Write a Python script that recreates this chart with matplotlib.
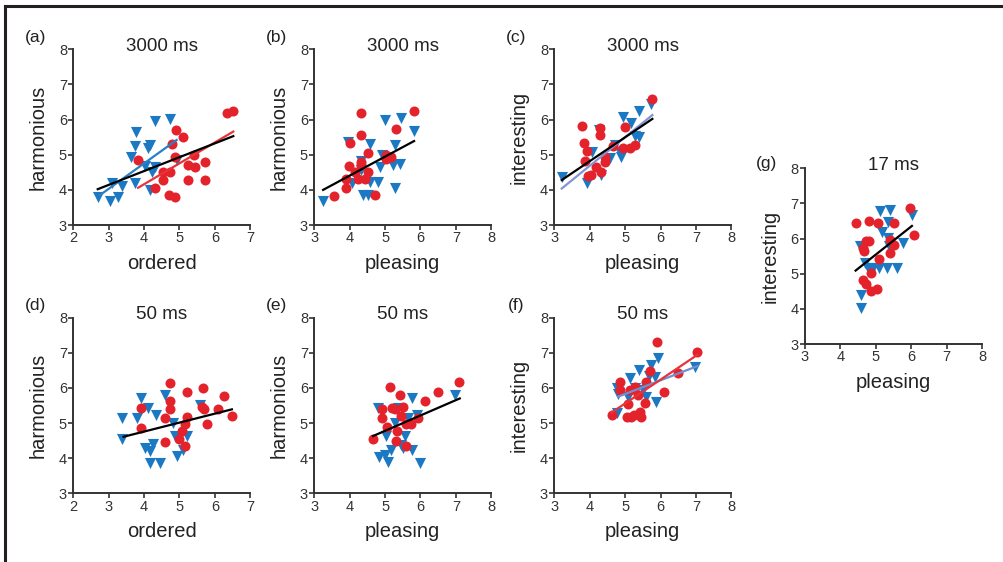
import matplotlib.pyplot as plt

plt.rcParams['font.family'] = ['Liberation Sans', 'DejaVu Sans']

RED = '#e4222b'
BLUE = '#1b79c3'

# (a) 3000 ms, ordered vs harmonious
a_tri_x = [2.69, 3.03, 3.08, 3.25, 3.38, 3.63, 3.74, 3.77, 3.74, 4.02, 4.12, 4.16, 4.16, 4.21, 4.30, 4.30, 4.73, 4.92]
a_tri_y = [3.81, 3.68, 4.21, 3.81, 4.12, 4.95, 5.25, 5.66, 4.20, 4.69, 5.18, 5.28, 4.00, 4.52, 4.66, 5.97, 6.02, 4.85]
a_dot_x = [3.82, 4.30, 4.54, 4.54, 4.70, 4.73, 4.78, 4.87, 4.87, 4.90, 5.10, 5.25, 5.25, 5.41, 5.43, 5.72, 5.72, 6.33, 6.52]
a_dot_y = [4.85, 4.04, 4.52, 4.28, 3.85, 4.52, 5.32, 4.95, 3.81, 5.70, 5.51, 4.71, 4.28, 4.99, 4.66, 4.80, 4.28, 6.18, 6.24]
a_fit_all = ([2.69, 6.52], [4.02, 5.53])
a_fit_tri = ([2.75, 4.92], [3.85, 5.42])
a_fit_dot = ([3.83, 6.52], [4.06, 5.66])

# (b) 3000 ms, pleasing vs harmonious
b_tri_x = [3.25, 3.96, 4.08, 4.31, 4.33, 4.38, 4.52, 4.57, 4.57, 4.80, 4.85, 4.90, 4.99, 5.23, 5.27, 5.27, 5.42, 5.46, 5.82]
b_tri_y = [3.69, 5.37, 4.19, 4.82, 4.57, 3.85, 3.85, 5.30, 4.23, 4.23, 4.66, 4.99, 5.99, 4.71, 5.28, 4.04, 4.74, 6.06, 5.68]
b_dot_x = [3.55, 3.91, 3.91, 3.98, 4.00, 4.15, 4.24, 4.33, 4.33, 4.32, 4.33, 4.43, 4.52, 4.52, 4.71, 5.02, 5.04, 5.18, 5.32, 5.82]
b_dot_y = [3.83, 4.04, 4.30, 4.68, 5.34, 4.52, 4.30, 6.20, 5.56, 4.80, 4.71, 4.30, 5.06, 4.52, 3.85, 4.99, 4.87, 4.94, 5.72, 6.25]
b_fit_all = ([3.25, 5.82], [4.00, 5.39])

# (c) 3000 ms, pleasing vs interesting
c_tri_x = [3.21, 3.91, 4.07, 4.26, 4.32, 4.57, 4.71, 4.85, 4.88, 4.95, 5.18, 5.27, 5.39, 5.39, 5.74]
c_tri_y = [4.38, 4.19, 5.09, 5.70, 4.42, 4.90, 5.28, 5.09, 4.95, 6.08, 5.89, 5.53, 5.51, 6.25, 6.44]
c_dot_x = [3.77, 3.85, 3.91, 3.86, 3.96, 4.05, 4.19, 4.29, 4.29, 4.32, 4.43, 4.43, 4.66, 4.95, 4.99, 5.13, 5.27, 5.76]
c_dot_y = [5.82, 5.34, 5.12, 4.83, 4.39, 4.42, 4.66, 5.75, 5.56, 4.52, 4.80, 4.95, 5.25, 5.20, 5.80, 5.20, 5.28, 6.59]
c_fit_all = ([3.21, 5.77], [4.28, 6.02])
c_fit_tri = ([3.21, 5.77], [4.04, 6.13])

# (d) 50 ms, ordered vs harmonious
d_tri_x = [3.39, 3.39, 3.79, 3.91, 4.10, 4.03, 4.17, 4.26, 4.17, 4.45, 4.33, 4.58, 4.83, 4.88, 4.92, 5.11, 5.21, 5.58]
d_tri_y = [5.15, 4.54, 5.15, 5.72, 5.44, 4.28, 4.21, 4.40, 3.87, 3.87, 5.23, 5.80, 4.99, 4.63, 4.06, 4.23, 4.63, 5.51]
d_dot_x = [3.91, 3.91, 4.58, 4.58, 4.72, 4.72, 4.72, 5.00, 5.07, 5.16, 5.16, 5.21, 5.21, 5.65, 5.63, 5.68, 5.77, 6.10, 6.25, 6.48]
d_dot_y = [5.44, 4.87, 4.47, 5.15, 6.15, 5.64, 5.39, 4.54, 4.76, 4.96, 4.35, 5.18, 5.87, 6.01, 5.47, 5.39, 4.96, 5.39, 5.77, 5.20]
d_fit_all = ([3.42, 6.48], [4.61, 5.39])

# (e) 50 ms, pleasing vs harmonious
e_tri_x = [4.80, 4.82, 4.99, 5.04, 5.09, 5.18, 5.27, 5.37, 5.46, 5.51, 5.56, 5.65, 5.76, 5.76, 5.89, 6.00, 6.97]
e_tri_y = [5.44, 4.04, 4.09, 4.63, 3.90, 4.23, 4.99, 5.44, 4.38, 4.28, 4.63, 5.13, 4.23, 5.70, 5.23, 3.85, 5.80]
e_dot_x = [4.66, 4.90, 4.90, 5.06, 5.13, 5.20, 5.27, 5.30, 5.34, 5.42, 5.46, 5.51, 5.60, 5.60, 5.74, 5.93, 6.14, 6.50, 7.09]
e_dot_y = [4.54, 5.39, 5.15, 4.90, 6.02, 5.44, 5.39, 4.49, 4.77, 5.80, 5.20, 5.45, 4.97, 4.35, 4.97, 5.15, 5.64, 5.87, 6.18]
e_fit_all = ([4.66, 7.11], [4.63, 5.70])

# (f) 50 ms, pleasing vs interesting
f_tri_x = [4.76, 4.80, 4.76, 5.09, 5.13, 5.40, 5.27, 5.51, 5.60, 5.67, 5.74, 5.84, 5.86, 5.93, 6.97]
f_tri_y = [6.01, 5.82, 5.28, 5.75, 6.27, 6.51, 5.99, 5.94, 5.75, 6.34, 6.65, 6.32, 5.61, 6.84, 6.60]
f_dot_x = [4.62, 4.85, 4.85, 5.04, 5.09, 5.13, 5.18, 5.27, 5.25, 5.37, 5.42, 5.46, 5.56, 5.58, 5.70, 5.90, 6.09, 6.48, 7.04]
f_dot_y = [5.23, 6.18, 5.94, 5.18, 5.54, 5.94, 5.18, 6.04, 5.23, 5.80, 5.32, 5.16, 5.56, 6.18, 6.49, 7.32, 5.87, 6.43, 7.03]
f_fit_dot = ([4.62, 7.04], [5.30, 6.94])
f_fit_tri = ([4.80, 7.04], [5.75, 6.62])

# (g) 17 ms, pleasing vs interesting
g_tri_x = [4.56, 4.58, 4.58, 4.70, 4.79, 4.93, 5.08, 5.12, 5.17, 5.31, 5.34, 5.34, 5.39, 5.36, 5.59, 5.78, 6.02]
g_tri_y = [5.79, 4.39, 4.02, 5.31, 5.15, 5.15, 5.15, 6.79, 6.20, 5.15, 6.48, 6.01, 6.82, 5.79, 5.15, 5.87, 6.67]
g_dot_x = [4.44, 4.82, 4.73, 4.82, 4.63, 4.67, 4.65, 4.73, 4.86, 4.87, 5.03, 5.05, 5.10, 5.39, 5.39, 5.50, 5.52, 5.97, 6.07]
g_dot_y = [6.45, 6.50, 5.94, 5.94, 5.72, 5.66, 4.82, 4.71, 4.52, 5.03, 4.57, 6.45, 5.41, 5.60, 5.96, 5.82, 6.45, 6.88, 6.10]
g_fit_all = ([4.43, 6.02], [5.09, 6.36])

fig = plt.figure(figsize=(10.04, 5.62), dpi=100)

# frame lines at top and left of the figure
fig.add_artist(plt.Line2D([0.0045, 0.0045], [0.0, 0.990], color='#231f20', lw=2.2, transform=fig.transFigure))
fig.add_artist(plt.Line2D([0.0045, 1.0], [0.990, 0.990], color='#231f20', lw=2.2, transform=fig.transFigure))

W, H = 0.1763, 0.3126


def panel(rect, letter, title, xlabel, ylabel, xlim, tri, dot, fits, letter_y=1.07):
    ax = fig.add_axes(rect)
    ax.scatter(tri[0], tri[1], marker='v', s=64, color=BLUE, linewidths=0, zorder=3)
    ax.scatter(dot[0], dot[1], marker='o', s=52, color=RED, linewidths=0, zorder=3)
    for (fx, fy), col in fits:
        ax.plot(fx, fy, color=col, lw=1.6, zorder=4)
    ax.set_xlim(*xlim)
    ax.set_ylim(3, 8)
    ax.set_xticks(range(xlim[0], xlim[1] + 1))
    ax.set_yticks(range(3, 9))
    for s in ['top', 'right']:
        ax.spines[s].set_visible(False)
    for s in ['left', 'bottom']:
        ax.spines[s].set_linewidth(1.4)
        ax.spines[s].set_color('#333333')
    ax.tick_params(direction='out', length=3.5, width=1.2, pad=1, labelsize=10.5,
                   colors='#333333', labelcolor='#333333')
    ax.set_xlabel(xlabel, fontsize=14.5, labelpad=6, color='#222222')
    ax.set_ylabel(ylabel, fontsize=14.5, labelpad=8, color='#222222')
    ax.text(0.5, 0.99, title, transform=ax.transAxes, ha='center', va='baseline',
            fontsize=13.5, color='#222222')
    ax.text(-0.215, letter_y, letter, transform=ax.transAxes, ha='center', va='center',
            fontsize=12.5, color='#222222')
    ax.patch.set_alpha(0)
    return ax


top, bot = 0.5996, 0.1222
x1, x2, x3 = 0.073, 0.3130, 0.5521

panel([x1, top, W, H], '(a)', '3000 ms', 'ordered', 'harmonious', (2, 7),
      (a_tri_x, a_tri_y), (a_dot_x, a_dot_y),
      [(a_fit_tri, '#2a7fc6'), (a_fit_dot, '#e8333a'), (a_fit_all, 'black')])
panel([x2, top, W, H], '(b)', '3000 ms', 'pleasing', 'harmonious', (3, 8),
      (b_tri_x, b_tri_y), (b_dot_x, b_dot_y),
      [(b_fit_all, 'black')])
panel([x3, top, W, H], '(c)', '3000 ms', 'pleasing', 'interesting', (3, 8),
      (c_tri_x, c_tri_y), (c_dot_x, c_dot_y),
      [(c_fit_tri, '#8494d2'), (c_fit_all, 'black')])
panel([x1, bot, W, H], '(d)', '50 ms', 'ordered', 'harmonious', (2, 7),
      (d_tri_x, d_tri_y), (d_dot_x, d_dot_y),
      [(d_fit_all, 'black')])
panel([x2, bot, W, H], '(e)', '50 ms', 'pleasing', 'harmonious', (3, 8),
      (e_tri_x, e_tri_y), (e_dot_x, e_dot_y),
      [(e_fit_all, 'black')])
panel([x3, bot, W, H], '(f)', '50 ms', 'pleasing', 'interesting', (3, 8),
      (f_tri_x, f_tri_y), (f_dot_x, f_dot_y),
      [(f_fit_tri, '#6f8fd0'), (f_fit_dot, '#e8333a')])
panel([0.8018, 0.3879, W, H], '(g)', '17 ms', 'pleasing', 'interesting', (3, 8),
      (g_tri_x, g_tri_y), (g_dot_x, g_dot_y),
      [(g_fit_all, 'black')], letter_y=1.03)

fig.savefig('out.png', dpi=100)
